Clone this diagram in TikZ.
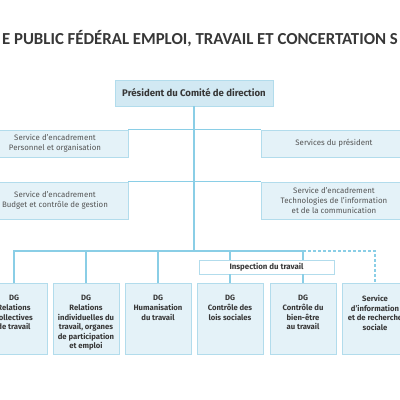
\documentclass[tikz,border=0pt]{standalone}
\usepackage{fontspec}
\setmainfont{Fira Sans}
\newfontfamily\titlefont{Carlito}
\usepackage{tikz}
\usetikzlibrary{positioning,calc}
\definecolor{boxfill}{RGB}{228, 242, 248}
\definecolor{presfill}{RGB}{210, 233, 243}
\definecolor{boxline}{RGB}{178, 220, 236}
\definecolor{linkblue}{RGB}{138, 206, 230}
\definecolor{textgrey}{RGB}{55, 55, 55}

\newcommand{\topbox}[1]{\parbox[c][71pt][t]{66pt}{\centering\vspace*{12pt}#1}}

\begin{document}
\begin{tikzpicture}[x=1pt, y=-1pt,
  presbox/.style={draw=boxline, fill=presfill, line width=0.9pt, minimum width=158pt, minimum height=26pt, inner sep=0pt, font=\fontsize{9.6}{11}\selectfont\bfseries, text=textgrey},
  staffbox/.style={draw=boxline, fill=boxfill, line width=0.9pt, minimum width=146pt, inner sep=0pt, align=center, font=\fontsize{7.9}{10}\selectfont, text=textgrey!85},
  dgbox/.style={draw=boxline, fill=boxfill, line width=0.9pt, minimum width=66pt, minimum height=71pt, inner sep=0pt, anchor=north, font=\fontsize{7.7}{9.6}\selectfont\bfseries, text=textgrey},
  inspbox/.style={draw=boxline, fill=white, line width=0.9pt, minimum width=135pt, minimum height=14pt, inner sep=0pt, font=\fontsize{7.9}{9}\selectfont\bfseries, text=textgrey},
  link/.style={draw=linkblue, line width=1.3pt},
  dashlink/.style={draw=linkblue, line width=1.1pt, dashed, dash pattern=on 3pt off 2pt}
]
\useasboundingbox (0,0) rectangle (400,400);
\clip (0,0) rectangle (400,400);

% Title
\node[font=\titlefont\fontsize{16.8}{18}\selectfont\bfseries, text=textgrey] (title) at (200,39) {E PUBLIC FÉDÉRAL EMPLOI, TRAVAIL ET CONCERTATION S};

% President
\node[presbox] (pres) at (194,93) {Président du Comité de direction};

% Staff services
\node[staffbox, minimum height=27pt] (pers) at (55,143.5) {Service d’encadrement\\Personnel et organisation};
\node[staffbox, minimum height=27pt] (pdt) at (334,143.5) {Services du président};
\node[staffbox, minimum height=37pt] (budg) at (55,200.5) {Service d’encadrement\\Budget et contrôle de gestion};
\node[staffbox, minimum height=37pt] (ict) at (334,200.5) {Service d’encadrement\\Technologies de l’information\\et de la communication};

% Directorates
\node[dgbox] (dgrc) at (14,283) {\topbox{DG\\Relations\\collectives\\de travail}};
\node[dgbox] (dgri) at (86,283) {\topbox{DG\\Relations\\individuelles du\\travail, organes\\de participation\\et emploi}};
\node[dgbox] (dgh) at (158,283) {\topbox{DG\\Humanisation\\du travail}};
\node[dgbox] (dgcl) at (230,283) {\topbox{DG\\Contrôle des\\lois sociales}};
\node[dgbox] (dgcb) at (303,283) {\topbox{DG\\Contrôle du\\bien-être\\au travail}};
\node[dgbox] (sirs) at (375,283) {\topbox{Service\\d’information\\et de recherche\\sociale}};

% Inspection
\node[inspbox] (insp) at (266.5,267) {Inspection du travail};

% Links
\coordinate (bus) at (194,251);
\coordinate (busend) at (303,251);
\draw[link] (pres.south) -- (bus);
\draw[link] (pers.north east) -- (pdt.north west);
\draw[link] (budg.north east) -- (ict.north west);
\draw[link] (dgrc.north) |- (bus) -| (dgri.north);
\draw[link] (bus) -| (dgh.north);
\draw[link] (bus) -| ($(insp.north)!(dgcl.north)!(insp.north east)$);
\draw[link] (bus) -| ($(insp.north)!(dgcb.north)!(insp.north east)$);
\draw[link] ($(insp.south west)!(dgcl.north)!(insp.south east)$) -- (dgcl.north);
\draw[link] ($(insp.south west)!(dgcb.north)!(insp.south east)$) -- (dgcb.north);
\draw[dashlink] (busend) -| (sirs.north);

\end{tikzpicture}
\end{document}
